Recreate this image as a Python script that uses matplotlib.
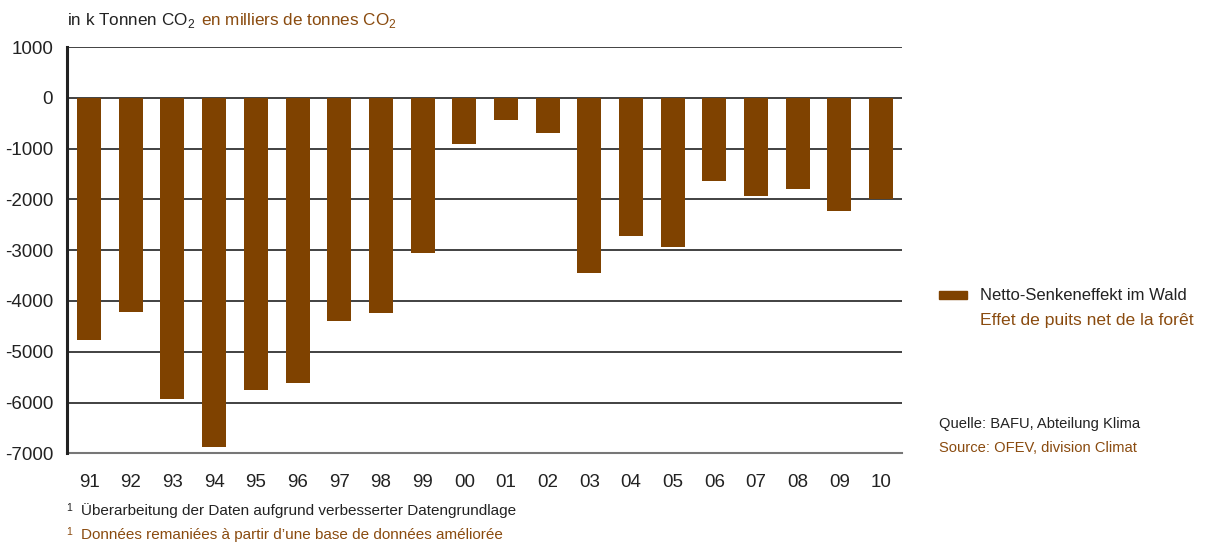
import matplotlib
matplotlib.use("Agg")
import matplotlib.pyplot as plt
from matplotlib.patches import Rectangle

years = ["91", "92", "93", "94", "95", "96", "97", "98", "99", "00",
         "01", "02", "03", "04", "05", "06", "07", "08", "09", "10"]
values = [-4760, -4210, -5940, -6880, -5760, -5610, -4390, -4230, -3050, -910,
          -440, -690, -3440, -2730, -2930, -1630, -1930, -1790, -2220, -2000]
yticks = [1000, 0, -1000, -2000, -3000, -4000, -5000, -6000, -7000]

BAR = "#7f4200"
BROWN = "#8a4b0f"
DARK = "#222222"
FONT = ["Liberation Sans Narrow", "Liberation Sans", "DejaVu Sans"]
plt.rcParams["font.family"] = FONT
plt.rcParams["mathtext.fontset"] = "custom"
plt.rcParams["mathtext.rm"] = "Liberation Sans"

fig = plt.figure(figsize=(12.07, 5.43), dpi=100)
ax = fig.add_axes([0.0555, 0.1652, 0.6918, 0.7482])

x = list(range(len(years)))
ax.bar(x, values, width=0.576, color=BAR, zorder=3)

ax.set_xlim(-0.53, 19.5)
ax.set_ylim(-7000, 1000)
ax.set_yticks(yticks)
ax.set_yticklabels([str(v) for v in yticks], fontsize=13.5, color=DARK)
ax.set_xticks(x)
ax.set_xticklabels(years, fontsize=13.5, color=DARK)
ax.tick_params(axis="both", length=0)
ax.tick_params(axis="y", pad=10)
ax.tick_params(axis="x", pad=15)
ax.grid(axis="y", color="#333333", linewidth=1.3, zorder=1)
for s in ["top", "right"]:
    ax.spines[s].set_visible(False)
ax.spines["left"].set_linewidth(2.2)
ax.spines["left"].set_color(DARK)
ax.spines["bottom"].set_linewidth(1.5)
ax.spines["bottom"].set_color("#777777")
ax.spines["left"].set_zorder(4)

# title
fig.text(67/1207, 1 - 21/543, r"in k Tonnen CO$_2$", fontsize=12.3, color=DARK, va="center", ha="left")
fig.text(201/1207, 1 - 21/543, r"en milliers de tonnes CO$_2$", fontsize=12.3, color=BROWN, va="center", ha="left")

# legend
fig.patches.append(Rectangle((939/1207, 1 - 299/543), 28/1207, 8/543,
                             transform=fig.transFigure, color=BAR, figure=fig))
fig.text(980/1207, 1 - 295/543, "Netto-Senkeneffekt im Wald", fontsize=12, color=DARK, va="center")
fig.text(980/1207, 1 - 321/543, "Effet de puits net de la forêt", fontsize=12.6, color=BROWN, va="center")

# source
fig.text(939/1207, 1 - 424/543, "Quelle: BAFU, Abteilung Klima", fontsize=10.6, color=DARK, va="center")
fig.text(939/1207, 1 - 448/543, "Source: OFEV, division Climat", fontsize=10.6, color=BROWN, va="center")

# footnotes
fig.text(66/1207, 1 - 508/543, "1", fontsize=7.5, color=DARK, va="center")
fig.text(81/1207, 1 - 511/543, "Überarbeitung der Daten aufgrund verbesserter Datengrundlage", fontsize=11, color=DARK, va="center")
fig.text(66/1207, 1 - 532/543, "1", fontsize=7.5, color=BROWN, va="center")
fig.text(81/1207, 1 - 535/543, "Données remaniées à partir d’une base de données améliorée", fontsize=11, color=BROWN, va="center")

fig.savefig("out.png", dpi=100)
